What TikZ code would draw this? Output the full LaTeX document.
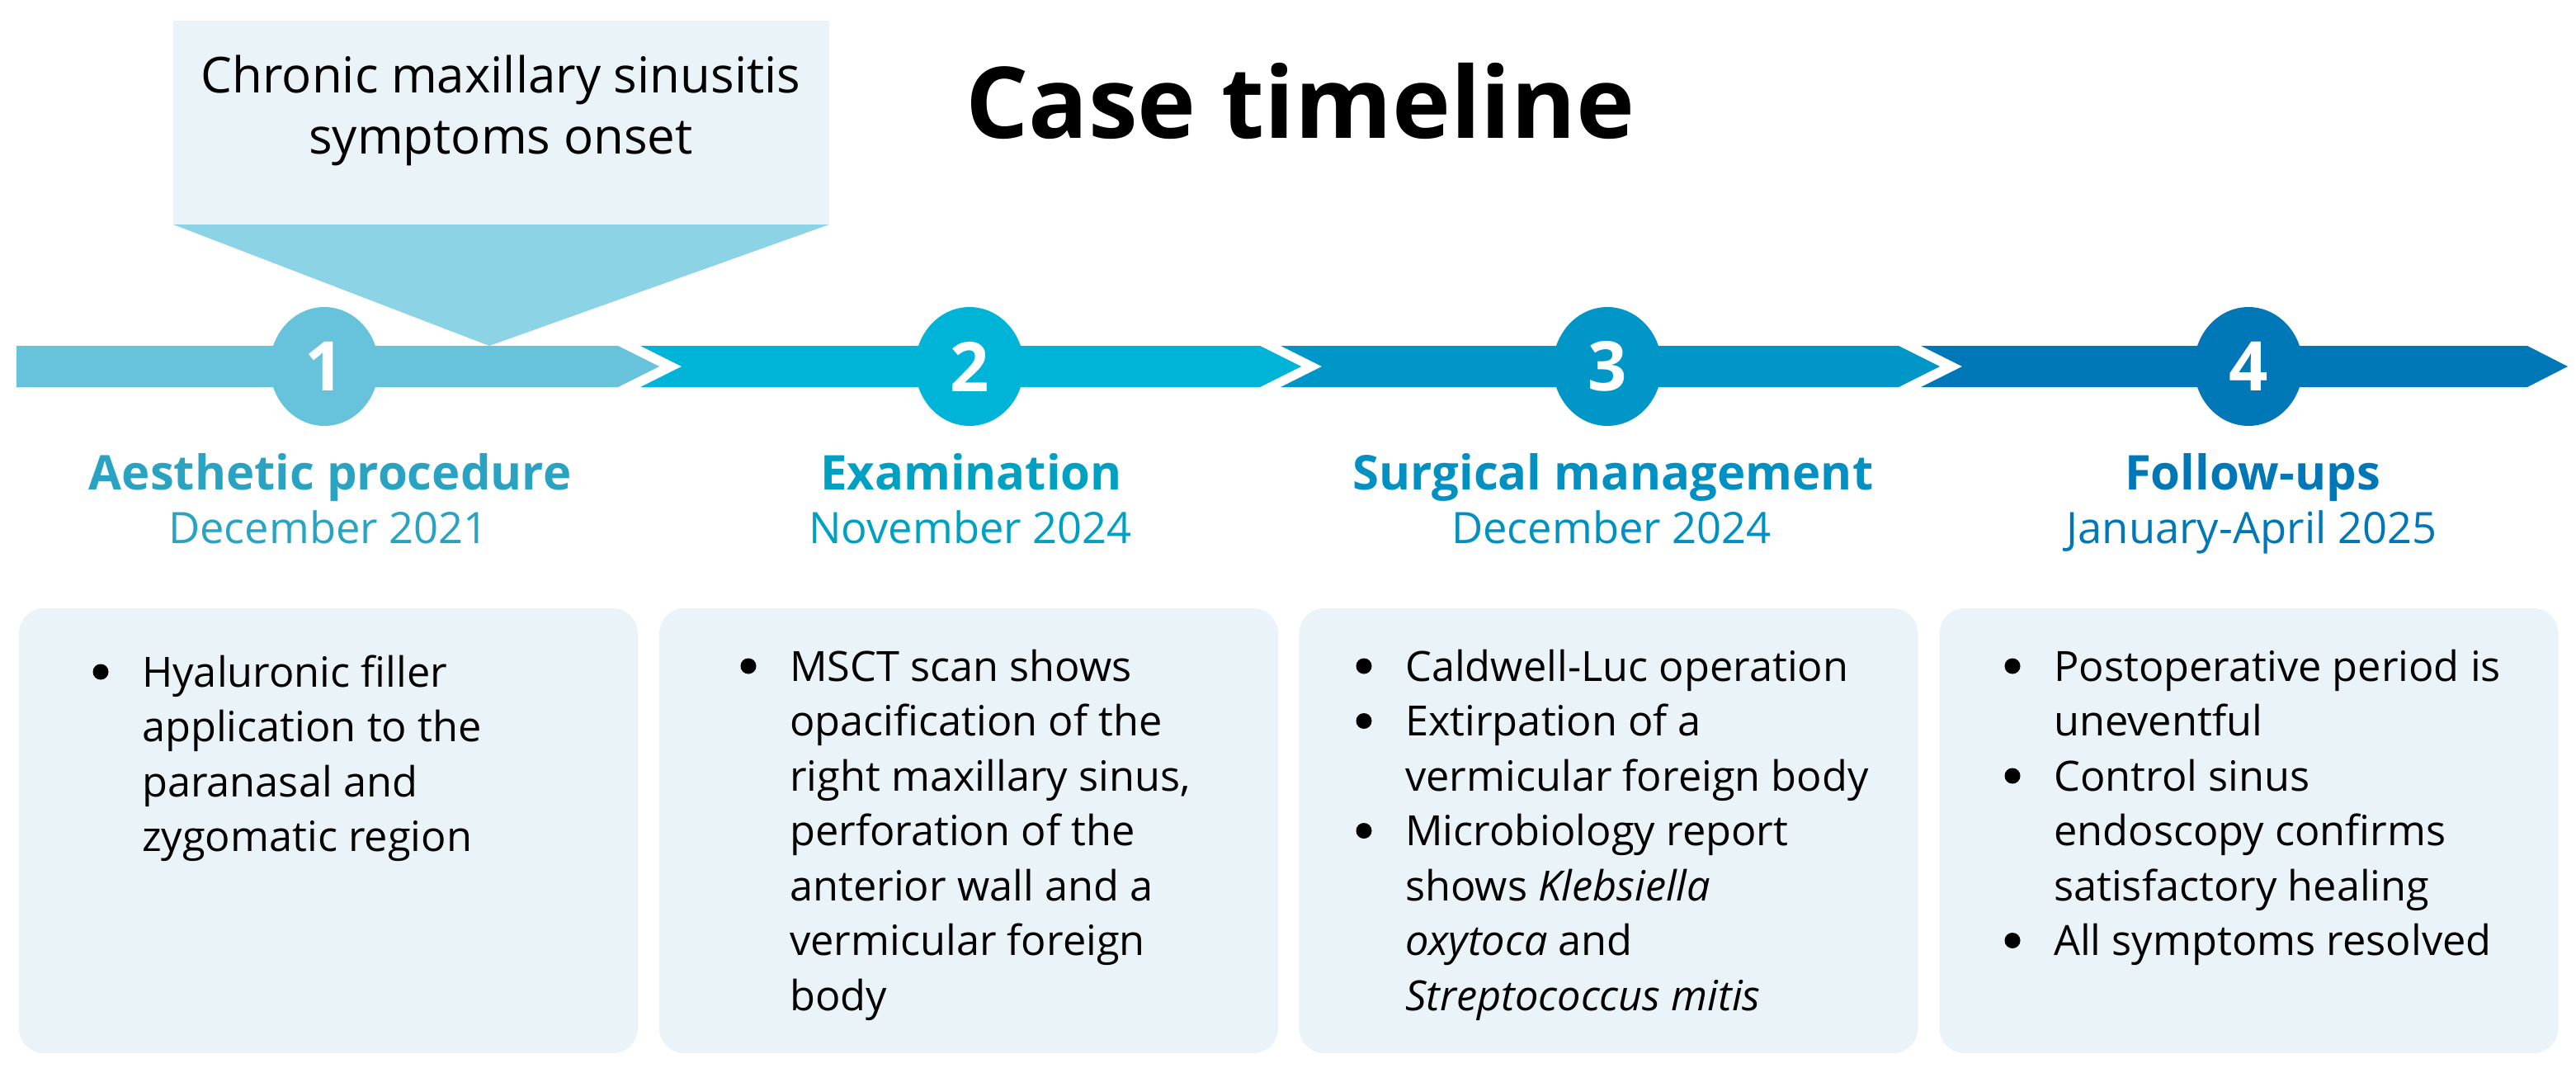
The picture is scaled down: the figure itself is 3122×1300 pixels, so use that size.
\documentclass[tikz,border=0pt]{standalone}
\usepackage{fontspec}
\setmainfont{Open Sans}
\usetikzlibrary{shapes.geometric}
\definecolor{segA}{HTML}{66C3DB}
\definecolor{segB}{HTML}{00B4D8}
\definecolor{segC}{HTML}{0096C7}
\definecolor{segD}{HTML}{0077B6}
\definecolor{callTri}{HTML}{8DD3E6}
\definecolor{paleBg}{HTML}{EAF4F8}
\definecolor{hA}{HTML}{2AA3C3}
\definecolor{hB}{HTML}{00A0C3}
\definecolor{hC}{HTML}{0090C2}
\definecolor{hD}{HTML}{0077B6}
\begin{document}
\begin{tikzpicture}[x=1pt,y=-1pt,
  numc/.style={ellipse, minimum width=132, minimum height=144, inner sep=0pt, text=white,
    font=\fontsize{83}{83}\selectfont\bfseries},
  panel/.style={fill=paleBg, rounded corners=30pt, minimum width=750, minimum height=539, inner sep=0pt},
  headtxt/.style={anchor=base, inner sep=0pt, font=\fontsize{58}{66}\selectfont\bfseries},
  datetxt/.style={anchor=base, inner sep=0pt, font=\fontsize{52.5}{60}\selectfont},
  bodytxt/.style={anchor=base west, inner sep=0pt, font=\fontsize{50.5}{66.5}\selectfont},
  bul/.style={fill=black}
]
\useasboundingbox (0,0) rectangle (3122,1300);
% title
\node[anchor=base west, inner sep=0pt, font=\fontsize{120}{130}\selectfont\bfseries] (title) at (1170,168) {Case timeline};
% callout
\fill[paleBg] (210,25) rectangle (1005,272);
\fill[callTri] (210,272) -- (1005,272) -- (593,419) -- cycle;
\node[anchor=base, inner sep=0pt, font=\fontsize{60}{74}\selectfont] (callout) at (607,113)
  {\begin{tabular}[t]{@{}c@{}}Chronic maxillary sinusitis\\symptoms onset\end{tabular}};
% timeline segments
\fill[segA] (20,419) -- (749,419) -- (799,444) -- (749,469) -- (20,469) -- cycle;
\fill[segB] (776,419) -- (1527,419) -- (1577,444) -- (1527,469) -- (776,469) -- (826,444) -- cycle;
\fill[segC] (1552,419) -- (2301,419) -- (2351,444) -- (2301,469) -- (1552,469) -- (1602,444) -- cycle;
\fill[segD] (2328,419) -- (3063,419) -- (3112,444) -- (3063,469) -- (2328,469) -- (2378,444) -- cycle;
% circles
\node[numc, fill=segA] (c1) at (393,444) {1};
\node[numc, fill=segB] (c2) at (1175,444) {2};
\node[numc, fill=segC] (c3) at (1948,444) {3};
\node[numc, fill=segD] (c4) at (2725,444) {4};
% headings
\node[headtxt, text=hA] (h1) at (400,593) {Aesthetic procedure};
\node[datetxt, text=hA] (d1) at (398,658) {December 2021};
\node[headtxt, text=hB] (h2) at (1177,593) {Examination};
\node[datetxt, text=hB] (d2) at (1176,658) {November 2024};
\node[headtxt, text=hC] (h3) at (1955,593) {Surgical management};
\node[datetxt, text=hC] (d3) at (1953,658) {December 2024};
\node[headtxt, text=hD] (h4) at (2730,593) {Follow-ups};
\node[datetxt, text=hD] (d4) at (2729,658) {January-April 2025};
% panels
\node[panel] (p1) at (398,1006.5) {};
\node[panel] (p2) at (1174,1006.5) {};
\node[panel] (p3) at (1949.5,1006.5) {};
\node[panel] (p4) at (2725.5,1006.5) {};
% panel texts
\node[bodytxt] (t1) at (172,832) {\begin{tabular}[t]{@{}l@{}}Hyaluronic filler\\application to the\\paranasal and\\zygomatic region\end{tabular}};
\fill[bul] (122,814) circle (9.5);
\node[bodytxt] (t2) at (957,825) {\begin{tabular}[t]{@{}l@{}}MSCT scan shows\\opacification of the\\right maxillary sinus,\\perforation of the\\anterior wall and a\\vermicular foreign\\body\end{tabular}};
\fill[bul] (907,807) circle (9.5);
\node[bodytxt] (t3) at (1703,825) {\begin{tabular}[t]{@{}l@{}}Caldwell-Luc operation\\Extirpation of a\\vermicular foreign body\\Microbiology report\\shows \textit{Klebsiella}\\\textit{oxytoca} and\\\textit{Streptococcus mitis}\end{tabular}};
\foreach \k in {0,1,3} \fill[bul] (1653,807+66.5*\k) circle (9.5);
\node[bodytxt] (t4) at (2489,825) {\begin{tabular}[t]{@{}l@{}}Postoperative period is\\uneventful\\Control sinus\\endoscopy confirms\\satisfactory healing\\All symptoms resolved\end{tabular}};
\foreach \k in {0,2,5} \fill[bul] (2439,807+66.5*\k) circle (9.5);
\end{tikzpicture}
\end{document}
